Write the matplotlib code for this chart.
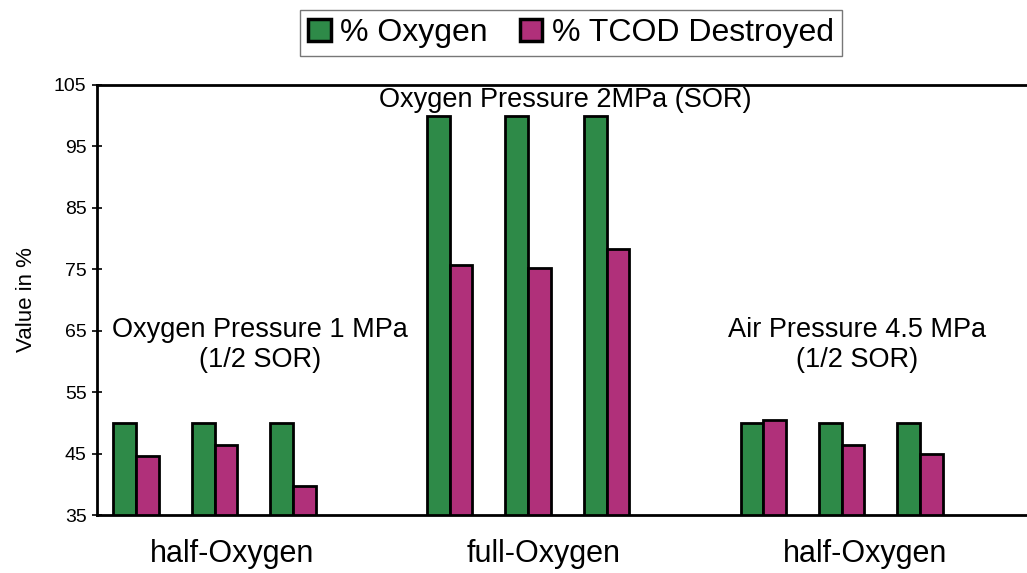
import matplotlib.pyplot as plt

plt.rcParams['font.family'] = ['Liberation Sans', 'DejaVu Sans']

# slot index of each bar pair (one empty slot between the groups)
slots = [0, 1, 2, 4, 5, 6, 8, 9, 10]
oxygen = [50, 50, 50, 100, 100, 100, 50, 50, 50]
tcod_destroyed = [44.6, 46.4, 39.7, 75.7, 75.2, 78.3, 50.4, 46.4, 45.0]
group_ticks = [1.22, 5.2, 9.3]
group_labels = ['half-Oxygen', 'full-Oxygen', 'half-Oxygen']

green = '#2e8a48'
pink = '#b0307a'
width = 0.29

fig = plt.figure(figsize=(10.27, 5.73), dpi=100)
ax = fig.add_axes([0.0944, 0.1012, 0.916, 0.7505])

ax.bar([s - width / 2 for s in slots], oxygen, width,
       color=green, edgecolor='black', linewidth=2, label='% Oxygen')
ax.bar([s + width / 2 for s in slots], tcod_destroyed, width,
       color=pink, edgecolor='black', linewidth=2, label='% TCOD Destroyed')

ax.set_xlim(-0.5, 11.5)
ax.set_ylim(35, 105)
ax.set_yticks(range(35, 106, 10))
ax.tick_params(axis='y', labelsize=14, length=7, width=1.2, direction='inout', pad=4)
ax.set_xticks(group_ticks)
ax.set_xticklabels(group_labels, fontsize=22)
ax.tick_params(axis='x', length=0, pad=17)
ax.set_ylabel('Value in %', fontsize=16, labelpad=12)

for side in ['left', 'bottom', 'top']:
    ax.spines[side].set_linewidth(2)
ax.spines['right'].set_visible(False)

ax.text(1.58, 62.6, 'Oxygen Pressure 1 MPa\n(1/2 SOR)', ha='center', va='center',
        fontsize=19.5, linespacing=1.2)
ax.text(5.48, 102.5, 'Oxygen Pressure 2MPa (SOR)', ha='center', va='center',
        fontsize=19.5)
ax.text(9.2, 62.6, 'Air Pressure 4.5 MPa\n(1/2 SOR)', ha='center', va='center',
        fontsize=19.5, linespacing=1.2)

leg = fig.legend(loc='center', bbox_to_anchor=(0.556, 0.942), ncol=2, fontsize=23,
                 frameon=True, fancybox=False, edgecolor='#555555',
                 handlelength=0.7, handleheight=0.7, handletextpad=0.3,
                 columnspacing=1.0, borderpad=0.25, borderaxespad=0)
leg.get_frame().set_linewidth(1)
for h in leg.legend_handles:
    h.set_linewidth(2.5)

fig.savefig('out.png', dpi=100)
